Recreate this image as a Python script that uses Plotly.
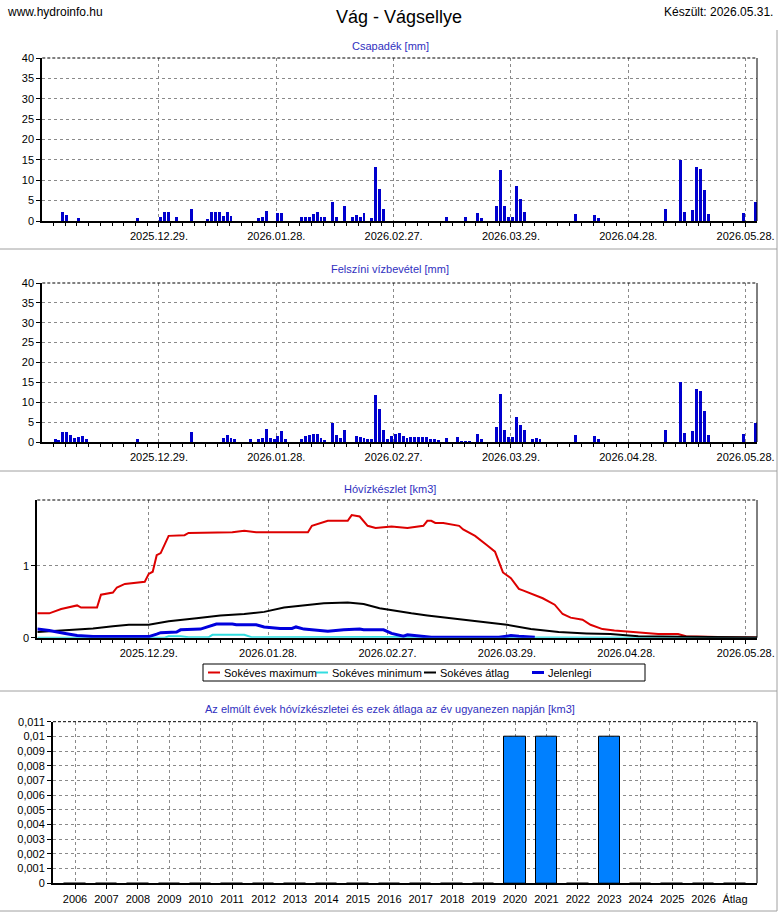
import plotly.graph_objects as go

W, H = 780, 913
DAY = 86400000

# Csapadék [mm] - daily precipitation
csapadek_dates = [
    "2025-12-04", "2025-12-05", "2025-12-08", "2025-12-23", "2025-12-29", "2025-12-30",
    "2025-12-31", "2026-01-02", "2026-01-06", "2026-01-10", "2026-01-11", "2026-01-12",
    "2026-01-13", "2026-01-14", "2026-01-15", "2026-01-16", "2026-01-23", "2026-01-24",
    "2026-01-25", "2026-01-28", "2026-01-29", "2026-02-03", "2026-02-04", "2026-02-05",
    "2026-02-06", "2026-02-07", "2026-02-08", "2026-02-09", "2026-02-11", "2026-02-12",
    "2026-02-14", "2026-02-16", "2026-02-17", "2026-02-18", "2026-02-19", "2026-02-21",
    "2026-02-22", "2026-02-23", "2026-02-24", "2026-03-12", "2026-03-17", "2026-03-20",
    "2026-03-21", "2026-03-25", "2026-03-26", "2026-03-27", "2026-03-28", "2026-03-29",
    "2026-03-30", "2026-03-31", "2026-04-01", "2026-04-14", "2026-04-19", "2026-04-20",
    "2026-05-07", "2026-05-11", "2026-05-12", "2026-05-14", "2026-05-15", "2026-05-16",
    "2026-05-17", "2026-05-18", "2026-05-27", "2026-05-30",
]
csapadek_mm = [
    2.2, 1.4, 0.7, 0.7, 1.1, 2.2,
    2.2, 1.0, 2.9, 0.6, 2.2, 2.2,
    2.3, 1.2, 2.2, 1.2, 0.7, 1.0,
    2.4, 2.0, 2.0, 1.1, 0.9, 1.1,
    1.6, 2.1, 1.1, 0.9, 4.7, 0.9,
    3.8, 0.9, 1.4, 1.1, 1.9, 0.7,
    13.2, 7.8, 2.9, 1.1, 1.1, 1.9,
    0.7, 3.8, 12.4, 3.8, 0.9, 1.1,
    8.7, 5.3, 2.1, 1.6, 1.4, 0.7,
    2.9, 14.9, 2.1, 2.6, 13.2, 12.7,
    7.5, 1.6, 1.9, 4.6,
]

# Felszíni vízbevétel [mm] - surface water input
vizbevetel_dates = [
    "2025-12-02", "2025-12-03", "2025-12-04", "2025-12-05", "2025-12-06", "2025-12-07",
    "2025-12-08", "2025-12-09", "2025-12-10", "2025-12-23", "2026-01-06", "2026-01-14",
    "2026-01-15", "2026-01-16", "2026-01-17", "2026-01-21", "2026-01-23", "2026-01-24",
    "2026-01-25", "2026-01-26", "2026-01-27", "2026-01-28", "2026-01-29", "2026-01-30",
    "2026-02-03", "2026-02-04", "2026-02-05", "2026-02-06", "2026-02-07", "2026-02-08",
    "2026-02-09", "2026-02-11", "2026-02-12", "2026-02-13", "2026-02-14", "2026-02-17",
    "2026-02-18", "2026-02-19", "2026-02-20", "2026-02-21", "2026-02-22", "2026-02-23",
    "2026-02-24", "2026-02-25", "2026-02-26", "2026-02-27", "2026-02-28", "2026-03-01",
    "2026-03-02", "2026-03-03", "2026-03-04", "2026-03-05", "2026-03-06", "2026-03-07",
    "2026-03-08", "2026-03-09", "2026-03-10", "2026-03-12", "2026-03-15", "2026-03-16",
    "2026-03-17", "2026-03-18", "2026-03-20", "2026-03-21", "2026-03-25", "2026-03-26",
    "2026-03-27", "2026-03-28", "2026-03-29", "2026-03-30", "2026-03-31", "2026-04-01",
    "2026-04-03", "2026-04-04", "2026-04-05", "2026-04-14", "2026-04-19", "2026-04-20",
    "2026-05-07", "2026-05-11", "2026-05-12", "2026-05-14", "2026-05-15", "2026-05-16",
    "2026-05-17", "2026-05-18", "2026-05-27", "2026-05-30",
]
vizbevetel_mm = [
    0.8, 0.6, 2.4, 2.4, 1.7, 0.9,
    1.2, 1.4, 0.7, 0.7, 2.4, 0.9,
    1.7, 0.9, 0.7, 0.7, 0.7, 0.9,
    3.2, 0.9, 0.7, 1.4, 2.7, 0.7,
    0.7, 1.4, 1.7, 1.9, 1.9, 0.9,
    0.3, 4.8, 1.7, 0.9, 2.9, 1.4,
    1.2, 0.9, 0.7, 0.7, 11.9, 8.4,
    2.9, 0.7, 1.4, 1.9, 2.2, 1.4,
    0.9, 1.2, 1.2, 1.2, 1.2, 1.2,
    0.7, 0.7, 0.3, 0.9, 1.2, 0.2,
    0.2, 0.2, 1.9, 0.7, 3.9, 12.2,
    2.9, 1.2, 1.2, 6.2, 4.4, 2.9,
    0.7, 0.9, 0.7, 1.7, 1.4, 0.7,
    2.9, 15.0, 2.2, 2.7, 13.4, 12.9,
    7.7, 1.7, 1.9, 4.7,
]

# Hóvízkészlet [km3] - snow water storage
max_dates = [
    "2025-12-01", "2025-12-04", "2025-12-07", "2025-12-08", "2025-12-11", "2025-12-12",
    "2025-12-16", "2025-12-17", "2025-12-20", "2025-12-21", "2025-12-23", "2025-12-28",
    "2025-12-29", "2025-12-30", "2025-12-31", "2026-01-01", "2026-01-03", "2026-01-07",
    "2026-01-08", "2026-01-19", "2026-01-22", "2026-01-25", "2026-02-07", "2026-02-08",
    "2026-02-12", "2026-02-17", "2026-02-18", "2026-02-20", "2026-02-22", "2026-02-24",
    "2026-02-28", "2026-03-04", "2026-03-08", "2026-03-09", "2026-03-10", "2026-03-11",
    "2026-03-13", "2026-03-17", "2026-03-18", "2026-03-21", "2026-03-23", "2026-03-24",
    "2026-03-26", "2026-03-27", "2026-03-28", "2026-03-30", "2026-04-01", "2026-04-02",
    "2026-04-04", "2026-04-07", "2026-04-10", "2026-04-12", "2026-04-14", "2026-04-17",
    "2026-04-19", "2026-04-22", "2026-04-25", "2026-04-29", "2026-05-03", "2026-05-06",
    "2026-05-11", "2026-05-13", "2026-05-21", "2026-05-31",
]
max_km3 = [
    0.34, 0.34, 0.40, 0.41, 0.45, 0.42,
    0.42, 0.60, 0.63, 0.70, 0.75, 0.78,
    0.89, 0.92, 1.15, 1.18, 1.42, 1.43,
    1.46, 1.47, 1.49, 1.47, 1.47, 1.56,
    1.63, 1.63, 1.71, 1.69, 1.56, 1.53,
    1.55, 1.53, 1.56, 1.63, 1.63, 1.60,
    1.60, 1.56, 1.51, 1.42, 1.34, 1.29,
    1.20, 1.05, 0.91, 0.83, 0.68, 0.66,
    0.62, 0.55, 0.46, 0.33, 0.28, 0.25,
    0.18, 0.12, 0.10, 0.08, 0.07, 0.05,
    0.05, 0.02, 0.01, 0.005,
]

min_dates = [
    "2025-12-01", "2026-01-02", "2026-01-03", "2026-01-06", "2026-01-08", "2026-01-13",
    "2026-01-14", "2026-01-22", "2026-01-24", "2026-02-08", "2026-02-28", "2026-03-10",
    "2026-05-31",
]
min_km3 = [
    0.0, 0.0, 0.02, 0.02, 0.005, 0.005,
    0.04, 0.04, 0.005, 0.01, 0.01, 0.005,
    0.0,
]

atlag_dates = [
    "2025-12-01", "2025-12-04", "2025-12-08", "2025-12-15", "2025-12-20", "2025-12-24",
    "2025-12-29", "2026-01-03", "2026-01-10", "2026-01-16", "2026-01-22", "2026-01-27",
    "2026-02-01", "2026-02-07", "2026-02-11", "2026-02-17", "2026-02-21", "2026-02-25",
    "2026-03-01", "2026-03-05", "2026-03-09", "2026-03-15", "2026-03-22", "2026-03-29",
    "2026-04-04", "2026-04-11", "2026-04-18", "2026-04-24", "2026-05-01", "2026-05-08",
    "2026-05-17", "2026-05-31",
]
atlag_km3 = [
    0.08, 0.09, 0.11, 0.13, 0.16, 0.18,
    0.18, 0.23, 0.27, 0.31, 0.33, 0.36,
    0.42, 0.45, 0.48, 0.49, 0.47, 0.41,
    0.37, 0.34, 0.31, 0.27, 0.22, 0.18,
    0.12, 0.08, 0.06, 0.05, 0.02, 0.015,
    0.005, 0.003,
]

jelenlegi_dates = [
    "2025-12-01", "2025-12-04", "2025-12-08", "2025-12-11", "2025-12-15", "2025-12-29",
    "2025-12-31", "2026-01-01", "2026-01-05", "2026-01-06", "2026-01-11", "2026-01-13",
    "2026-01-15", "2026-01-19", "2026-01-20", "2026-01-25", "2026-01-27", "2026-01-31",
    "2026-02-03", "2026-02-04", "2026-02-06", "2026-02-08", "2026-02-12", "2026-02-16",
    "2026-02-20", "2026-02-21", "2026-02-26", "2026-02-28", "2026-03-03", "2026-03-04",
    "2026-03-07", "2026-03-10", "2026-03-27", "2026-03-30", "2026-04-01", "2026-04-05",
]
jelenlegi_km3 = [
    0.12, 0.10, 0.06, 0.03, 0.015, 0.015,
    0.05, 0.07, 0.08, 0.11, 0.12, 0.15,
    0.19, 0.19, 0.18, 0.18, 0.15, 0.13,
    0.13, 0.15, 0.12, 0.11, 0.09, 0.11,
    0.12, 0.11, 0.11, 0.06, 0.02, 0.04,
    0.02, 0.005, 0.005, 0.03, 0.02, 0.005,
]

# Past years' storage on the same day [km3]
evek = [str(y) for y in range(2006, 2027)] + ["Átlag"]
evek_km3 = [0, 0, 0, 0, 0, 0, 0, 0, 0, 0, 0, 0, 0, 0, 0.01, 0.01, 0, 0.01, 0, 0, 0, 0]
y4_vals = [i / 1000 for i in range(12)]
y4_text = ["0"] + ["0," + f"{i / 1000:.3f}".split(".")[1].rstrip("0") for i in range(1, 12)]

legend_names = ["Sokéves maximum", "Sokéves minimum", "Sokéves átlag", "Jelenlegi"]
legend_colors = ["#DD0000", "#33DDE0", "black", "#0000DD"]


def py(px):
    # pixel row from top -> paper y
    return 1 - px / H


GRID = dict(showgrid=True, gridcolor="#8a8a8a", griddash="3px,3px", gridwidth=1, zeroline=False,
            showline=True, linecolor="black", linewidth=2, ticks="outside", ticklen=4,
            tickcolor="black", tickfont=dict(size=11, color="black"), automargin=False)


def date_axis(x0, x1, rng, anchor):
    return dict(GRID, domain=[x0 / W, x1 / W], range=rng, type="date", anchor=anchor,
                tick0="2025-12-29", dtick=30 * DAY, tickformat="%Y.%m.%d.",
                minor=dict(ticks="outside", ticklen=3, tickcolor="black", dtick=3 * DAY,
                           tick0="2025-12-29", showgrid=False))


fig = go.Figure()

fig.add_trace(go.Bar(x=csapadek_dates, y=csapadek_mm, xperiod=DAY, xperiodalignment="middle",
                     width=0.75 * DAY, marker=dict(color="#0000CD", line=dict(width=0)),
                     xaxis="x", yaxis="y"))
fig.add_trace(go.Bar(x=vizbevetel_dates, y=vizbevetel_mm, xperiod=DAY, xperiodalignment="middle",
                     width=0.75 * DAY, marker=dict(color="#0000CD", line=dict(width=0)),
                     xaxis="x2", yaxis="y2"))

line_series = [(max_dates, max_km3, 2), (min_dates, min_km3, 2),
               (atlag_dates, atlag_km3, 2), (jelenlegi_dates, jelenlegi_km3, 3)]
for (xs, ys, lw), name, col in zip(line_series, legend_names, legend_colors):
    fig.add_trace(go.Scatter(x=xs, y=ys, mode="lines", name=name,
                             line=dict(color=col, width=lw), xaxis="x3", yaxis="y3"))

fig.add_trace(go.Bar(x=evek, y=evek_km3, width=0.68,
                     marker=dict(color="#0080FF", line=dict(color="black", width=1)),
                     xaxis="x4", yaxis="y4"))

bar_range = ["2025-11-29 04:00", "2026-05-30 22:00"]
fig.update_layout(
    xaxis=date_axis(42.3, 757, bar_range, "y"),
    yaxis=dict(GRID, domain=[py(221), py(58)], range=[0, 40], dtick=5, anchor="x"),
    xaxis2=date_axis(42.3, 757, bar_range, "y2"),
    yaxis2=dict(GRID, domain=[py(442), py(283)], range=[0, 40], dtick=5, anchor="x2"),
    xaxis3=date_axis(37.3, 757, ["2025-12-01", "2026-05-30 20:00"], "y3"),
    yaxis3=dict(GRID, domain=[py(637.7), py(500)], range=[0, 1.92], tickvals=[0, 1], anchor="x3"),
    xaxis4=dict(GRID, domain=[53 / W, 757 / W], type="category", range=[-0.7, 21.7], anchor="y4"),
    yaxis4=dict(GRID, domain=[py(883.3), py(721.7)], range=[0, 0.011], tickvals=y4_vals,
                ticktext=y4_text, anchor="x4"),
)

shapes = []
# thin top (dashed) and right (solid) frame of each plot area
for ax in ["", "2", "3", "4"]:
    shapes.append(dict(type="line", xref=f"x{ax} domain", yref=f"y{ax} domain", x0=0, x1=1, y0=1, y1=1,
                       line=dict(color="black", width=1, dash="3px,2px")))
    shapes.append(dict(type="line", xref=f"x{ax} domain", yref=f"y{ax} domain", x0=1, x1=1, y0=0, y1=1,
                       line=dict(color="black", width=1)))
# light gray panel separators
for yy in [249, 471, 691, 911]:
    shapes.append(dict(type="line", xref="paper", yref="paper", x0=0, x1=777 / W, y0=py(yy), y1=py(yy),
                       line=dict(color="#A0A0A0", width=1)))
shapes.append(dict(type="line", xref="paper", yref="paper", x0=777 / W, x1=777 / W, y0=py(911), y1=py(30),
                   line=dict(color="#A0A0A0", width=1)))

sub_col = "#3030C0"
annotations = [
    dict(text="www.hydroinfo.hu", x=5 / W, y=py(12), xanchor="left", font=dict(size=12)),
    dict(text="Vág - Vágsellye", x=399 / W, y=py(17), xanchor="center", font=dict(size=18)),
    dict(text="Készült: 2026.05.31.", x=775 / W, y=py(12), xanchor="right", font=dict(size=12)),
    dict(text="Csapadék [mm]", x=390 / W, y=py(46), font=dict(size=11, color=sub_col)),
    dict(text="Felszíni vízbevétel [mm]", x=390 / W, y=py(269), font=dict(size=11, color=sub_col)),
    dict(text="Hóvízkészlet [km3]", x=390 / W, y=py(489), font=dict(size=11, color=sub_col)),
    dict(text="Az elmúlt évek hóvízkészletei és ezek átlaga az év ugyanezen napján [km3]",
         x=390 / W, y=py(709), font=dict(size=11, color=sub_col)),
]

# legend box under the snow panel, drawn like the original (short line keys)
shapes.append(dict(type="rect", xref="paper", yref="paper", x0=203 / W, x1=645 / W,
                   y0=py(681), y1=py(664), line=dict(color="black", width=1), fillcolor="white"))
for i, (name, col) in enumerate(zip(legend_names, legend_colors)):
    x0 = 208 + 108 * i
    shapes.append(dict(type="line", xref="paper", yref="paper", x0=x0 / W, x1=(x0 + 12) / W,
                       y0=py(672.5), y1=py(672.5), line=dict(color=col, width=3 if i == 3 else 2)))
    annotations.append(dict(text=name, x=(x0 + 14) / W, y=py(672.5), xanchor="left",
                            font=dict(size=11)))

for a in annotations:
    a.update(xref="paper", yref="paper", yanchor="middle", showarrow=False)

fig.update_layout(
    width=W, height=H, margin=dict(l=0, r=0, t=0, b=0, autoexpand=False),
    paper_bgcolor="white", plot_bgcolor="white",
    font=dict(family="Liberation Sans, Arial, sans-serif", size=11, color="black"),
    bargap=0, shapes=shapes, annotations=annotations,
    showlegend=False,
)

# drop the browser's default body margin so the figure sits at the page corner
fig.write_html("out.html", config={"displayModeBar": False},
               post_script="document.body.style.margin='0';")
